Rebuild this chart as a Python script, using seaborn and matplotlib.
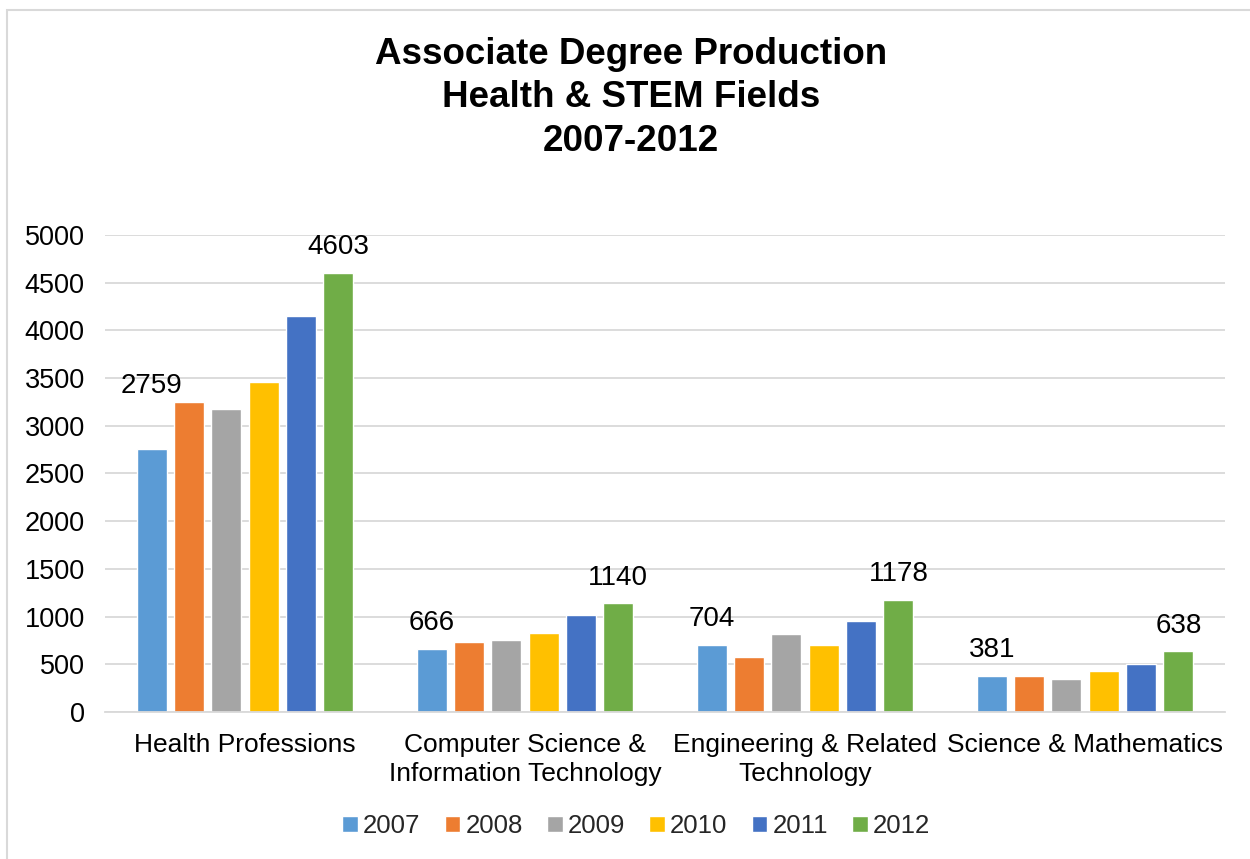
import matplotlib
matplotlib.use("Agg")
import matplotlib.pyplot as plt
from matplotlib.patches import Rectangle
import seaborn as sns
import pandas as pd

categories = [
    "Health Professions",
    "Computer Science &\nInformation Technology",
    "Engineering & Related\nTechnology",
    "Science & Mathematics",
]
years = ["2007", "2008", "2009", "2010", "2011", "2012"]
values_2007 = [2759, 666, 704, 381]
values_2008 = [3246, 736, 582, 380]
values_2009 = [3176, 757, 823, 342]
values_2010 = [3459, 827, 700, 426]
values_2011 = [4148, 1022, 956, 499]
values_2012 = [4603, 1140, 1178, 638]
colors = ["#5b9bd5", "#ed7d31", "#a5a5a5", "#ffc000", "#4472c4", "#70ad47"]
yticks = [0, 500, 1000, 1500, 2000, 2500, 3000, 3500, 4000, 4500, 5000]

series = [values_2007, values_2008, values_2009, values_2010, values_2011, values_2012]
rows = []
for yr, vals in zip(years, series):
    for cat, v in zip(categories, vals):
        rows.append({"Field": cat, "Year": yr, "Degrees": v})
df = pd.DataFrame(rows)

sns.set_theme(style="white")
plt.rcParams["font.family"] = ["Liberation Sans", "DejaVu Sans"]

fig = plt.figure(figsize=(12.5, 8.59), dpi=100)
ax = fig.add_axes([0.084, 0.171, 0.896, 0.5556])

sns.barplot(data=df, x="Field", y="Degrees", hue="Year", order=categories,
            hue_order=years, palette=colors, width=0.8, gap=0.2,
            saturation=1, ax=ax, legend=True)

ax.set_ylim(0, 5000)
ax.set_xlim(-0.5, 3.5)
ax.set_yticks(yticks)
ax.set_yticklabels([str(t) for t in yticks], fontsize=19.5, color="#000000")
ax.tick_params(axis="x", labelsize=19, colors="#000000", length=0, pad=15)
ax.tick_params(axis="y", length=0, pad=14.5)
for lbl in ax.get_xticklabels():
    lbl.set_linespacing(1.27)
ax.set_xlabel("")
ax.set_ylabel("")
ax.yaxis.grid(True, color="#d9d9d9", linewidth=1.3)
ax.set_axisbelow(True)
for side in ["left", "right", "top"]:
    ax.spines[side].set_visible(False)
ax.spines["bottom"].set_color("#d9d9d9")
ax.spines["bottom"].set_linewidth(1.3)

# value labels on the first and last year of each field
for cont, yr in zip(ax.containers, years):
    if yr not in ("2007", "2012"):
        continue
    for bar in cont:
        h = bar.get_height()
        cx = bar.get_x() + bar.get_width() / 2
        dy = 18.5
        if h > 2000 and yr == "2007":
            # lifted clear of the neighbouring 2008 bar
            dy = 45.5
        ax.annotate(str(int(round(h))), (cx, h), xytext=(0, dy),
                    textcoords="offset points", ha="center", va="center",
                    fontsize=20, color="#000000")

ax.legend(loc="center", bbox_to_anchor=(0.509, 0.0384),
          bbox_transform=fig.transFigure, ncol=6,
          frameon=False, fontsize=18.5, handlelength=0.6, handleheight=0.6,
          handletextpad=0.2, columnspacing=0.95)

fig.text(0.505, 0.957, "Associate Degree Production\nHealth & STEM Fields\n2007-2012",
         ha="center", va="top", fontsize=26.5, fontweight="bold",
         linespacing=1.315, color="#000000")

# chart area border
fig.patches.append(Rectangle((0.0056, -0.05), 1.1, 1.038, transform=fig.transFigure,
                             fill=False, edgecolor="#d9d9d9", linewidth=1.5))

fig.savefig("out.png", dpi=100)
